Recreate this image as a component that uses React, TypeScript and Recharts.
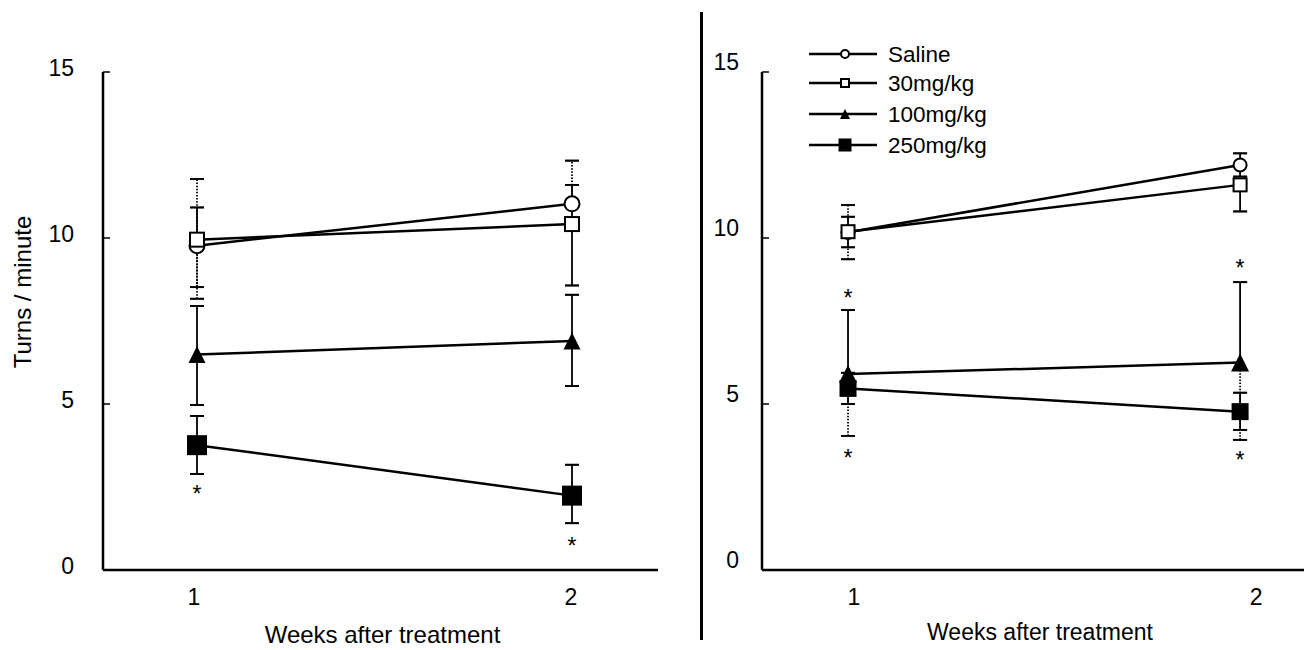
import React from 'react';
import { ComposedChart, Line, Scatter, XAxis, YAxis, ErrorBar, Legend } from 'recharts';

type Pair = [number, number]; // [below, above] error lengths

const FONT = '"Liberation Sans", Arial, Helvetica, sans-serif';

const weeks = [1, 2];
const weekLabels = ['1', '2'];
const yTicks = [0, 5, 10, 15];
const seriesNames = ['Saline', '30mg/kg', '100mg/kg', '250mg/kg'];
const noErr: Pair[] = [[0, 0], [0, 0]];

// left panel (means, error parts drawn solid / dotted)
const leftSaline = [9.77, 11.03];
const leftSalineSolid: Pair[] = [[0, 1.15], [0.6, 0.57]];
const leftSalineDotted: Pair[] = [[1.6, 2.01], [0, 1.3]];
const leftDose30 = [9.95, 10.42];
const leftDose30Solid: Pair[] = [[0, 0], [1.85, 0]];
const leftDose30Dotted: Pair[] = [[1.43, 0], [0, 0]];
const leftDose100 = [6.49, 6.9];
const leftDose100Solid: Pair[] = [[1.52, 1.46], [1.36, 1.39]];
const leftDose250 = [3.76, 2.24];
const leftDose250Solid: Pair[] = [[0.87, 0.88], [0.83, 0.93]];
const leftStarWeeks = [1, 2];
const leftStarValues = [2.44, 0.87];

// right panel
const rightSaline = [10.17, 12.2];
const rightSalineSolid: Pair[] = [[0, 0], [0.35, 0.35]];
const rightSalineDotted: Pair[] = [[0.81, 0.82], [0, 0]];
const rightDose30 = [10.19, 11.6];
const rightDose30Solid: Pair[] = [[0.47, 0.45], [0.8, 0]];
const rightDose100 = [5.9, 6.25];
const rightDose100Solid: Pair[] = [[0, 1.93], [0, 2.42]];
const rightDose100Dotted: Pair[] = [[1.86, 0], [2.33, 0]];
const rightDose250 = [5.47, 4.77];
const rightDose250Solid: Pair[] = [[0.47, 0.47], [0.55, 0.57]];
const rightStarWeeks = [1, 1, 2, 2];
const rightStarValues = [8.34, 3.52, 9.25, 3.46];

const markerKinds = ['circle', 'square', 'triangle', 'filledSquare'];

// error bar pieces: stems without caps, caps as zero-length bars
function buildRows(means: number[], solid: Pair[], dotted: Pair[]) {
  return weeks.map((w, i) => {
    const [sLo, sHi] = solid[i];
    const [dLo, dHi] = dotted[i];
    return {
      week: w,
      value: means[i],
      solidStem: sLo || sHi ? [sLo, sHi] : null,
      dotStem: dLo || dHi ? [dLo, dHi] : null,
      capSolidHi: sHi ? [-sHi, sHi] : null,
      capSolidLo: sLo ? [sLo, -sLo] : null,
      capDotHi: dHi ? [-dHi, dHi] : null,
      capDotLo: dLo ? [dLo, -dLo] : null,
    };
  });
}

const leftSeries = [
  buildRows(leftSaline, leftSalineSolid, leftSalineDotted),
  buildRows(leftDose30, leftDose30Solid, leftDose30Dotted),
  buildRows(leftDose100, leftDose100Solid, noErr),
  buildRows(leftDose250, leftDose250Solid, noErr),
];
const rightSeries = [
  buildRows(rightSaline, rightSalineSolid, rightSalineDotted),
  buildRows(rightDose30, rightDose30Solid, noErr),
  buildRows(rightDose100, rightDose100Solid, rightDose100Dotted),
  buildRows(rightDose250, rightDose250Solid, noErr),
];
const leftStars = leftStarWeeks.map((w, i) => ({ week: w, value: leftStarValues[i] }));
const rightStars = rightStarWeeks.map((w, i) => ({ week: w, value: rightStarValues[i] }));

function Marker({ cx, cy, kind, size }: any) {
  const h = size / 2;
  if (kind === 'circle')
    return <circle cx={cx} cy={cy} r={h} fill="#fff" stroke="#000" strokeWidth={2} />;
  if (kind === 'square')
    return <rect x={cx - h} y={cy - h} width={size} height={size} fill="#fff" stroke="#000" strokeWidth={2} />;
  if (kind === 'triangle')
    return <polygon points={`${cx},${cy - h} ${cx + h},${cy + h} ${cx - h},${cy + h}`} fill="#000" />;
  return <rect x={cx - h} y={cy - h} width={size} height={size} fill="#000" />;
}

const YTick = ({ x, y, payload, gap, dy }: any) => (
  <g>
    <line x1={x} x2={x + 7} y1={y} y2={y} stroke="#000" strokeWidth={1.5} />
    <text x={x - gap} y={y + dy} textAnchor="end" dominantBaseline="central" fontSize={23} fontFamily={FONT} fill="#000">
      {String(payload.value)}
    </text>
  </g>
);

const XTick = ({ x, y, payload, shift }: any) => {
  const i = weeks.indexOf(payload.value);
  return (
    <text x={x + (shift[i] ?? 0)} y={y + 35} textAnchor="middle" fontSize={23} fontFamily={FONT} fill="#000">
      {weekLabels[i]}
    </text>
  );
};

const XTitle = ({ viewBox, dx, lift, size }: any) => (
  <text
    x={viewBox.x + viewBox.width / 2 + dx}
    y={viewBox.y + viewBox.height - lift}
    textAnchor="middle"
    fontSize={size}
    fontFamily={FONT}
    fill="#000"
  >
    Weeks after treatment
  </text>
);

const YTitle = ({ viewBox }: any) => {
  const x = viewBox.x + 22;
  const y = viewBox.y + viewBox.height / 2 - 29;
  return (
    <text x={x} y={y} transform={`rotate(-90 ${x} ${y})`} textAnchor="middle" dominantBaseline="central" fontSize={24} fontFamily={FONT} fill="#000">
      Turns / minute
    </text>
  );
};

const LegendBox = () => (
  <svg width={260} height={130}>
    {seriesNames.map((name, i) => {
      const y = [24, 53, 84, 115][i];
      return (
        <g key={name}>
          <line x1={9} x2={77} y1={y} y2={y} stroke="#000" strokeWidth={2.6} />
          <Marker cx={45} cy={y} kind={markerKinds[i]} size={[8, 8, 10, 13][i]} />
          <text x={88} y={y + 8} fontSize={22.5} fontFamily={FONT} fill="#000">{name}</text>
        </g>
      );
    })}
  </svg>
);

function Panel({ series, stars, cfg }: any) {
  return (
    <ComposedChart width={cfg.width} height={650} margin={{ top: 72, right: cfg.right, bottom: 0, left: 0 }}>
      <XAxis
        type="number"
        dataKey="week"
        domain={cfg.xDomain}
        allowDataOverflow
        ticks={weeks}
        height={80}
        axisLine={{ stroke: '#000', strokeWidth: 2.5 }}
        tickLine={false}
        tickSize={0}
        tickMargin={0}
        tick={(p: any) => <XTick {...p} shift={cfg.tickShift} />}
        label={<XTitle dx={cfg.titleDx} lift={cfg.titleLift} size={cfg.titleSize} />}
      />
      <YAxis
        type="number"
        domain={[0, 15]}
        allowDataOverflow
        ticks={yTicks}
        width={cfg.yWidth}
        axisLine={{ stroke: '#000', strokeWidth: 2.5 }}
        tickLine={false}
        tickSize={0}
        tickMargin={0}
        tick={(p: any) => <YTick {...p} gap={cfg.labelGap} dy={cfg.labelDy} />}
        label={cfg.yTitle ? <YTitle /> : undefined}
      />
      {series.map((rows: any, si: number) => (
        <Line
          key={seriesNames[si]}
          name={seriesNames[si]}
          data={rows}
          dataKey="value"
          type="linear"
          stroke="#000"
          strokeWidth={2.5}
          activeDot={false}
          isAnimationActive={false}
          dot={(p: any) => (
            <Marker key={`${si}-${p.index}`} cx={p.cx} cy={p.cy} kind={markerKinds[si]} size={cfg.markerSizes[si]} />
          )}
        >
          <ErrorBar dataKey="solidStem" width={0} stroke="#000" strokeWidth={1.8} isAnimationActive={false} />
          <ErrorBar dataKey="dotStem" width={0} stroke="#000" strokeWidth={1.8} strokeDasharray="1.5 1.6" isAnimationActive={false} />
          <ErrorBar dataKey="capSolidHi" width={7} stroke="#000" strokeWidth={1.8} isAnimationActive={false} />
          <ErrorBar dataKey="capSolidLo" width={7} stroke="#000" strokeWidth={1.8} isAnimationActive={false} />
          <ErrorBar dataKey="capDotHi" width={7} stroke="#000" strokeWidth={1.8} isAnimationActive={false} />
          <ErrorBar dataKey="capDotLo" width={7} stroke="#000" strokeWidth={1.8} isAnimationActive={false} />
        </Line>
      ))}
      <Scatter
        data={stars}
        dataKey="value"
        legendType="none"
        isAnimationActive={false}
        shape={(p: any) => (
          <text x={p.cx} y={p.cy + 13} textAnchor="middle" fontSize={23} fontFamily={FONT} fill="#000">*</text>
        )}
      />
      {cfg.legend && (
        <Legend
          layout="vertical"
          verticalAlign="middle"
          align="center"
          content={() => <LegendBox />}
          wrapperStyle={{ left: 95, top: 30, width: 260, height: 130 }}
        />
      )}
    </ComposedChart>
  );
}

const leftCfg = {
  width: 700,
  right: 42,
  yWidth: 103,
  xDomain: [0.7493, 2.2293],
  tickShift: [-3, -1],
  titleDx: 2,
  titleLift: 7,
  titleSize: 24,
  labelGap: 29,
  labelDy: -4,
  yTitle: true,
  markerSizes: [15, 14, 17, 20],
  legend: false,
};

const rightCfg = {
  width: 599,
  right: 0,
  yWidth: 57,
  xDomain: [0.7806, 2.163],
  tickShift: [6, 16],
  titleDx: 7,
  titleLift: 10,
  titleSize: 23,
  labelGap: 23,
  labelDy: -10,
  yTitle: false,
  markerSizes: [13, 13, 18, 17],
  legend: true,
};

export default function App() {
  return (
    <div style={{ position: 'absolute', left: 0, top: 0, width: 1304, height: 650, background: '#fff', overflow: 'hidden', fontFamily: FONT }}>
      <div style={{ position: 'absolute', left: 0, top: 0 }}>
        <Panel series={leftSeries} stars={leftStars} cfg={leftCfg} />
      </div>
      <div style={{ position: 'absolute', left: 700, top: 12, width: 3, height: 628, background: '#000' }} />
      <div style={{ position: 'absolute', left: 705, top: 0 }}>
        <Panel series={rightSeries} stars={rightStars} cfg={rightCfg} />
      </div>
    </div>
  );
}
